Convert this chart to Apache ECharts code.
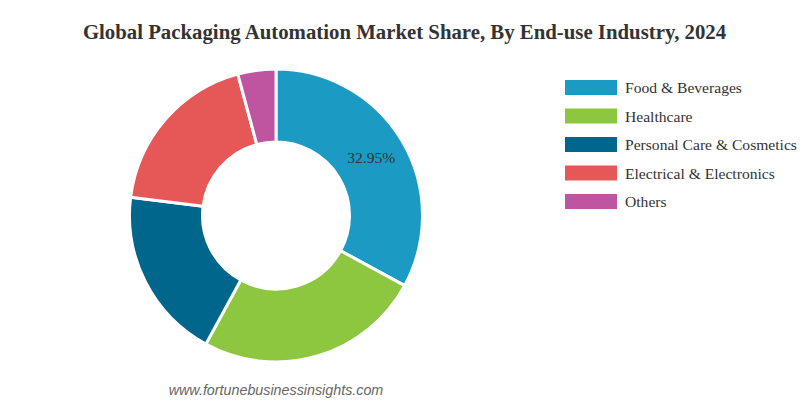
<!DOCTYPE html>
<html>
<head>
<meta charset="utf-8">
<style>html,body{margin:0;padding:0;background:#fff}#chart{width:809px;height:404px}</style>
<script src="https://cdn.jsdelivr.net/npm/echarts@6/dist/echarts.min.js"></script>
</head>
<body>
<div id="chart"></div>
<script>
var categories = ['Food & Beverages', 'Healthcare', 'Personal Care & Cosmetics', 'Electrical & Electronics', 'Others'];
var shares = [32.95, 25, 19.05, 18.8, 4.2];
var colors = ['#1b9ac3', '#8dc63f', '#00668c', '#e65757', '#bf55a0'];
var chartTitle = 'Global Packaging Automation Market Share, By End-use Industry, 2024';
var sourceText = 'www.fortunebusinessinsights.com';

var chart = echarts.init(document.getElementById('chart'), null, {renderer: 'svg'});
chart.setOption({
	animation: false,
	color: colors,
	title: [{
		text: chartTitle,
		left: 399.5, top: 16, textAlign: 'center',
		textStyle: {fontFamily: 'Liberation Serif', fontSize: 20.8, fontWeight: 'bold', color: '#333'}
	}, {
		text: sourceText,
		left: 271, top: 378, textAlign: 'center',
		textStyle: {fontFamily: 'Liberation Sans', fontSize: 14.3, fontStyle: 'italic', fontWeight: 'normal', color: '#666'}
	}],
	legend: {
		orient: 'vertical',
		left: 563, top: 78, padding: 0,
		itemWidth: 54, itemHeight: 17, itemGap: 9.5,
		icon: 'rect',
		textStyle: {fontFamily: 'Liberation Serif', fontSize: 15.6, lineHeight: 16, color: '#333', padding: [0, 0, 2, 2]}
	},
	series: [{
		type: 'pie',
		center: [276, 215.5],
		radius: [73.5, 146.5],
		startAngle: 90,
		clockwise: true,
		itemStyle: {borderColor: '#fff', borderWidth: 3},
		label: {
			show: true, position: 'inside', offset: [-2, 0],
			fontFamily: 'Liberation Serif', fontSize: 15.6, color: '#333',
			formatter: function (p) { return p.dataIndex === 0 ? p.value.toFixed(2) + '%' : ''; }
		},
		labelLine: {show: false},
		emphasis: {disabled: true},
		data: categories.map(function (name, i) { return {name: name, value: shares[i]}; })
	}]
});
</script>
</body>
</html>
